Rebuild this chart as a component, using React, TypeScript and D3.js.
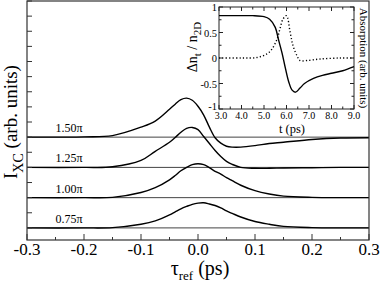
import React from 'react';
import * as d3 from 'd3';

// main panel: I_XC vs tau_ref, traces offset by one unit each
const tau = [-0.3, -0.2, -0.15, -0.1, -0.075, -0.05, -0.04, -0.03, -0.02, -0.01, 0, 0.01, 0.02, 0.03, 0.04, 0.05, 0.06, 0.075, 0.1, 0.125, 0.15, 0.2, 0.25, 0.3];
const pulseLabels = ['0.75π', '1.00π', '1.25π', '1.50π'];
const offsets = [0, 1, 2, 3];
const ixc075 = [0, 0, 0.01, 0.12, 0.23, 0.43, 0.53, 0.63, 0.71, 0.78, 0.82, 0.83, 0.79, 0.74, 0.66, 0.56, 0.48, 0.36, 0.21, 0.12, 0.05, 0.01, 0, 0];
const ixc100 = [0, 0, 0.01, 0.17, 0.33, 0.59, 0.73, 0.89, 1.0, 1.09, 1.12, 1.09, 0.99, 0.87, 0.78, 0.66, 0.56, 0.41, 0.23, 0.12, 0.05, 0.01, 0, 0];
const ixc125 = [0, 0, 0.02, 0.23, 0.53, 0.83, 0.99, 1.16, 1.29, 1.32, 1.25, 1.02, 0.79, 0.56, 0.36, 0.2, 0.1, 0, -0.03, -0.03, -0.02, -0.01, 0, 0];
const ixc150 = [0, 0.01, 0.05, 0.33, 0.53, 0.92, 1.09, 1.24, 1.29, 1.22, 1.02, 0.73, 0.33, -0.02, -0.2, -0.3, -0.33, -0.33, -0.28, -0.21, -0.17, -0.08, -0.03, -0.02];
const series = [ixc075, ixc100, ixc125, ixc150];

// inset: carrier density change and absorption vs t
const tDens = [3.0, 4.0, 4.5, 5.0, 5.25, 5.5, 5.65, 5.8, 5.95, 6.1, 6.25, 6.4, 6.6, 6.8, 7.2, 7.6, 8.0, 8.5, 9.0];
const dens = [0.83, 0.83, 0.83, 0.81, 0.76, 0.6, 0.35, 0.1, -0.2, -0.47, -0.63, -0.67, -0.59, -0.5, -0.4, -0.34, -0.3, -0.25, -0.17];
const tAbs = [3.0, 4.0, 4.69, 5.13, 5.36, 5.58, 5.71, 5.84, 6.0, 6.16, 6.29, 6.47, 6.6, 6.91, 7.49, 8.38, 9.0];
const absorption = [0, 0, 0.01, 0.08, 0.18, 0.37, 0.57, 0.76, 0.83, 0.51, 0.24, 0.04, -0.05, -0.05, -0.02, 0, 0];

const xTicks = [-0.3, -0.2, -0.1, 0, 0.1, 0.2, 0.3];
const insetXTicks = [3, 4, 5, 6, 7, 8, 9];
const insetYTicks = [1, 0.5, 0, -0.5, -1];

const serif = "Liberation Serif, DejaVu Serif, serif";

export default function App() {
  const W = 382, H = 284;
  const x = d3.scaleLinear().domain([-0.3, 0.3]).range([27, 369]);
  const y = d3.scaleLinear().domain([-0.4, 7.5]).range([240, 1]);

  const xi = d3.scaleLinear().domain([3, 9]).range([219, 354]);
  const yi = d3.scaleLinear().domain([-1, 1]).range([109, 7]);

  const mainLine = d3.line<[number, number]>()
    .x(d => x(d[0]))
    .y(d => y(d[1]))
    .curve(d3.curveCatmullRom.alpha(0.5));

  const insetLine = d3.line<[number, number]>()
    .x(d => xi(d[0]))
    .y(d => yi(d[1]))
    .curve(d3.curveCatmullRom.alpha(0.5));

  const minorX = d3.range(-0.3, 0.3001, 0.05);
  const yTickVals = d3.range(0, 7.5001, 0.5);
  const insetMinorX = d3.range(3, 9.001, 0.5);
  const insetMinorY = d3.range(-1, 1.001, 0.25);

  return (
    <svg width={W} height={H} fontFamily={serif} style={{ position: 'fixed', left: 0, top: 0, background: '#fff' }}>
      {/* baselines */}
      {offsets.map((o, i) => (
        <line key={'b' + i} x1={x(-0.3)} x2={x(0.3)} y1={y(o)} y2={y(o)} stroke="#444" strokeWidth={1} />
      ))}
      {/* traces */}
      {series.map((s, i) => (
        <path key={'s' + i}
          d={mainLine(tau.map((t, j) => [t, s[j] + offsets[i]]) as [number, number][]) || ''}
          fill="none" stroke="#000" strokeWidth={1.4} />
      ))}
      {pulseLabels.map((lab, i) => (
        <text key={'l' + i} x={x(-0.25)} y={y(offsets[i]) - 5} fontSize={12}>{lab}</text>
      ))}

      {/* main frame */}
      <rect x={x(-0.3)} y={y(7.5)} width={x(0.3) - x(-0.3)} height={y(-0.4) - y(7.5)} fill="none" stroke="#333" strokeWidth={1.2} />
      {minorX.map((v, i) => {
        const major = i % 2 === 0;
        return <line key={'xt' + i} x1={x(v)} x2={x(v)} y1={y(-0.4)} y2={y(-0.4) - (major ? 6 : 3)} stroke="#333" />;
      })}
      {yTickVals.map((v, i) => (
        <line key={'yt' + i} x1={x(-0.3)} x2={x(-0.3) + 5} y1={y(v)} y2={y(v)} stroke="#333" />
      ))}
      {xTicks.map((v, i) => (
        <text key={'xl' + i} x={x(v)} y={255} textAnchor="middle" fontSize={17}>
          {v.toFixed(1)}
        </text>
      ))}
      <text x={200} y={275} textAnchor="middle" fontSize={20}>
        τ<tspan fontSize={13} dy={5}>ref</tspan><tspan dy={-5}> (ps)</tspan>
      </text>
      <text transform="translate(17,122) rotate(-90)" textAnchor="middle" fontSize={19}>
        I<tspan fontSize={14} dy={6}>XC</tspan><tspan dy={-6}> (arb. units)</tspan>
      </text>

      {/* inset */}
      <rect x={xi(3)} y={yi(1)} width={xi(9) - xi(3)} height={yi(-1) - yi(1)} fill="#fff" stroke="#222" strokeWidth={1} />
      <path d={insetLine(tAbs.map((t, j) => [t, absorption[j]]) as [number, number][]) || ''}
        fill="none" stroke="#000" strokeWidth={1.4} strokeDasharray="1.2 2.2" />
      <path d={insetLine(tDens.map((t, j) => [t, dens[j]]) as [number, number][]) || ''}
        fill="none" stroke="#000" strokeWidth={1.4} />
      {insetMinorX.map((v, i) => {
        const len = i % 2 === 0 ? 4 : 2.5;
        return (
          <g key={'ixt' + i} stroke="#222">
            <line x1={xi(v)} x2={xi(v)} y1={yi(-1)} y2={yi(-1) - len} />
            <line x1={xi(v)} x2={xi(v)} y1={yi(1)} y2={yi(1) + len} />
          </g>
        );
      })}
      {insetMinorY.map((v, i) => {
        const len = i % 2 === 0 ? 4 : 2.5;
        return (
          <g key={'iyt' + i} stroke="#222">
            <line x1={xi(3)} x2={xi(3) + len} y1={yi(v)} y2={yi(v)} />
            <line x1={xi(9)} x2={xi(9) - len} y1={yi(v)} y2={yi(v)} />
          </g>
        );
      })}
      {insetXTicks.map((v, i) => (
        <text key={'ixl' + i} x={xi(v) + (i === 0 ? 2 : 0)} y={119} textAnchor="middle" fontSize={10}>
          {v.toFixed(1)}
        </text>
      ))}
      {insetYTicks.map((v, i) => (
        <text key={'iyl' + i} x={217} y={yi(v) + (v === -1 ? 1 : 4)} textAnchor="end" fontSize={10.5}>
          {String(v)}
        </text>
      ))}
      <text x={292} y={133} textAnchor="middle" fontSize={12.5}>t (ps)</text>
      <text transform="translate(197,47) rotate(-90)" textAnchor="middle" fontSize={14}>
        Δn<tspan fontSize={11} dy={4}>t</tspan><tspan dy={-4}> / n</tspan><tspan fontSize={11} dy={4}>2D</tspan>
      </text>
      <text transform="translate(360,58) rotate(90)" textAnchor="middle" fontSize={11}>
        Absorption (arb. units)
      </text>
    </svg>
  );
}
